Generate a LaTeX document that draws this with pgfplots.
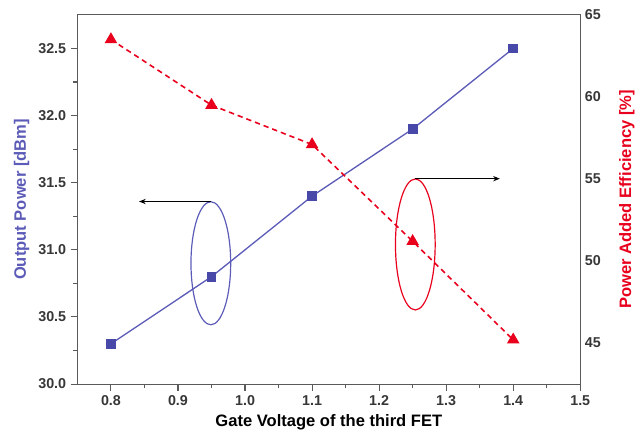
\documentclass[border=0pt]{standalone}
\usepackage{pgfplots}
\pgfplotsset{compat=1.18}
\usepackage{fontspec}
\setmainfont{Liberation Sans}
\usetikzlibrary{arrows.meta}
\definecolor{pblue}{RGB}{92,92,184}
\definecolor{pbluedark}{RGB}{72,72,168}
\definecolor{pred}{RGB}{232,0,28}
\definecolor{axgray}{RGB}{90,90,90}
\definecolor{tickgray}{RGB}{55,55,55}

\pgfplotsset{
  common/.style={
    scale only axis, width=380pt, height=279pt,
    xmin=0.75, xmax=1.5,
    axis line style={axgray, line width=0.8pt},
    tick style={axgray, line width=0.8pt},
    /pgf/number format/assume math mode=true,
    ticklabel style={font=\fontsize{10.8}{12}\selectfont\bfseries, text=tickgray},
    label style={font=\fontsize{12.5}{14}\selectfont\bfseries},
  }
}

\begin{document}
\begin{tikzpicture}
\begin{axis}[common, name=pow,
    ymin=30, ymax=32.75,
    xtick={0.8,0.9,1.0,1.1,1.2,1.3,1.4,1.5},
    ytick={30,30.5,31,31.5,32,32.5},
    minor x tick num=1, minor y tick num=1,
    xtick pos=left, ytick pos=left, tick align=outside,
    major tick length=5pt, minor tick length=3pt,
    xticklabel style={/pgf/number format/.cd, fixed, fixed zerofill, precision=1},
    yticklabel style={/pgf/number format/.cd, fixed, fixed zerofill, precision=1},
    xlabel={Gate Voltage of the third FET},
    ylabel={Output Power [dBm]},
    ylabel style={text=pblue},
  ]
  \addplot[pblue, line width=1pt, mark=square*, mark size=3.2pt,
    mark options={fill=pbluedark, draw=pbluedark}]
    coordinates {(0.8,30.3)(0.95,30.8)(1.1,31.4)(1.25,31.9)(1.4,32.5)};
  % annotation ellipses and arrows
  \draw[pblue, line width=0.9pt] (axis cs:0.949,30.9) ellipse [x radius=15pt, y radius=46.5pt];
  \draw[black, line width=0.8pt, -{Stealth[length=5pt,width=4pt]}] (axis cs:0.949,31.36) -- (axis cs:0.842,31.36);
  \draw[pred, line width=0.9pt] (axis cs:1.254,31.04) ellipse [x radius=15pt, y radius=49.5pt];
  \draw[black, line width=0.8pt, -{Stealth[length=5pt,width=4pt]}] (axis cs:1.254,31.53) -- (axis cs:1.38,31.53);
\end{axis}
\begin{axis}[common,
    ymin=42.5, ymax=65,
    axis x line=none, axis y line*=right,
    ytick={45,50,55,60,65},
    major tick length=0pt,
    ylabel={Power Added Efficiency [\%]},
    ylabel style={text=pred},
    ylabel shift=7pt,
  ]
  \addplot[pred, line width=1.2pt, dash pattern=on 4pt off 3pt, mark=triangle*, mark size=4.3pt,
    mark options={solid, fill=pred, draw=pred}]
    coordinates {(0.8,63.5)(0.95,59.5)(1.1,57.1)(1.25,51.2)(1.4,45.2)};
\end{axis}
\path ([shift={(-58.5pt,-39pt)}]pow.south west) rectangle ([shift={(40.5pt,11.25pt)}]pow.north east);
\end{tikzpicture}
\end{document}
